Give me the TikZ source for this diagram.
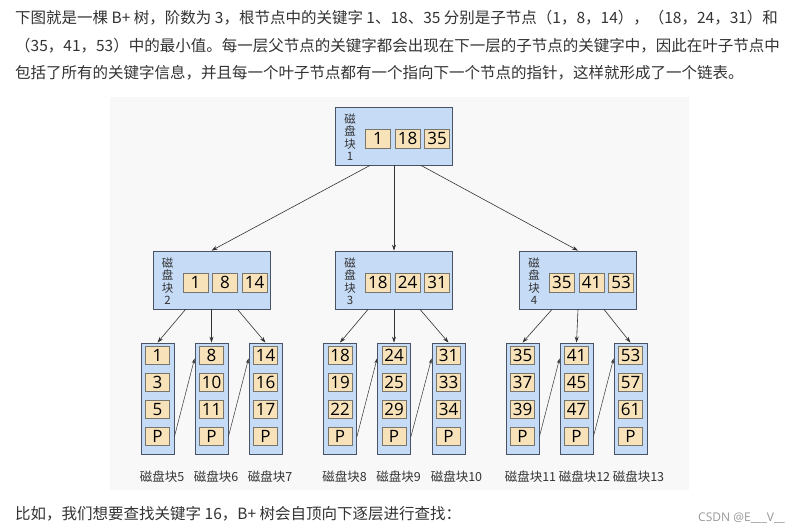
\documentclass[tikz,border=0pt]{standalone}
\usepackage{fontspec}
\setmainfont{Open Sans}
\newfontfamily\cjkfont{Noto Sans CJK SC}
\usetikzlibrary{arrows.meta, positioning, calc}
\definecolor{blkblue}{RGB}{198,219,246}
\definecolor{blkedge}{RGB}{72,84,102}
\definecolor{keyfill}{RGB}{247,226,185}
\definecolor{keyedge}{RGB}{120,118,108}
\definecolor{panel}{RGB}{248,248,248}
\definecolor{txt}{RGB}{51,51,51}

\begin{document}
\begin{tikzpicture}[x=1pt, y=-1pt,
  blk/.style={draw=blkedge, fill=blkblue, line width=0.8pt, minimum width=117pt, minimum height=58pt, inner sep=0pt},
  leafblk/.style={draw=blkedge, fill=blkblue, line width=0.8pt, minimum width=33pt, minimum height=111pt, inner sep=0pt},
  key/.style={draw=keyedge, fill=keyfill, line width=0.6pt, minimum width=25pt, minimum height=19pt, inner sep=0pt, font=\fontsize{17}{17}\selectfont},
  leafkey/.style={key, minimum width=24pt, minimum height=18pt},
  vlbl/.style={align=center, font=\cjkfont\fontsize{11.5}{12.5}\selectfont, text=txt, inner sep=0pt},
  lbl/.style={font=\cjkfont\fontsize{12.5}{12.5}\selectfont, text=txt, inner sep=0pt, anchor=west},
  para/.style={font=\cjkfont\fontsize{15.5}{15.5}\selectfont, text=txt, inner sep=0pt, anchor=west},
  arr/.style={-{Stealth[length=6pt, width=4pt]}, line width=0.6pt, draw=black!80},
  link/.style={-{Stealth[length=5pt, width=3pt]}, line width=0.5pt, draw=black!80}
]
  \useasboundingbox (0,0) rectangle (787,530);
  \fill[white] (0,0) rectangle (787,530);
  \fill[panel] (110,97) rectangle (689,490);

  % text around the figure
  \node[para] (line1) at (15,18) {下图就是一棵 B+ 树，阶数为 3，根节点中的关键字 1、18、35 分别是子节点（1，8，14），（18，24，31）和};
  \node[para] (line2) at (15,46) {（35，41，53）中的最小值。每一层父节点的关键字都会出现在下一层的子节点的关键字中，因此在叶子节点中};
  \node[para] (line3) at (15,73) {包括了所有的关键字信息，并且每一个叶子节点都有一个指向下一个节点的指针，这样就形成了一个链表。};
  \node[para] (ask) at (15,514) {比如，我们想要查找关键字 16，B+ 树会自顶向下逐层进行查找：};
  \node[font=\fontsize{12}{12}\selectfont, text=black!40, anchor=east, inner sep=0pt] (mark) at (785,518) {CSDN @E\_\_\_V\_\_};

  % root and inner blocks
  \foreach \name/\x/\y/\num/\ka/\kb/\kc in {b1/394/136/1/1/18/35, b2/211.5/280/2/1/8/14, b3/394/280/3/18/24/31, b4/578/280/4/35/41/53} {
    \node[blk] (\name) at (\x,\y) {};
    \node[vlbl] (\name-l) at ([xshift=15pt, yshift=-1pt]\name.west) {磁\\盘\\块\\\num};
    \node[key, anchor=west] (\name-k1) at ([xshift=30pt, yshift=-2.5pt]\name.west) {\ka};
    \node[key, right=4pt of \name-k1] (\name-k2) {\kb};
    \node[key, right=4pt of \name-k2] (\name-k3) {\kc};
  }

  % leaf blocks
  \foreach \name/\x/\ka/\kb/\kc/\num in {l5/157.5/1/3/5/5, l6/211.5/8/10/11/6, l7/265.5/14/16/17/7,
      l8/340/18/19/22/8, l9/394/24/25/29/9, l10/448.5/31/33/34/10,
      l11/522.5/35/37/39/11, l12/576.5/41/45/47/12, l13/630.5/53/57/61/13} {
    \node[leafblk] (\name) at (\x,398.5) {};
    \node[leafkey, below=3.5pt of \name.north] (\name-1) {\ka};
    \node[leafkey, below=8.5pt of \name-1] (\name-2) {\kb};
    \node[leafkey, below=8.5pt of \name-2] (\name-3) {\kc};
    \node[leafkey, below=8.5pt of \name-3] (\name-p) {P};
    \node[lbl] (\name-lbl) at ([xshift=-1pt, yshift=-22pt]\name.south west) {磁盘块\num};
  }

  \draw[arr] ([xshift=-24pt]b1.south) -- (b2.north);
  \draw[arr] (b1.south) -- (b3.north);
  \draw[arr] ([xshift=27pt]b1.south) -- (b4.north);

  \foreach \p/\a/\b/\c in {b2/l5/l6/l7, b3/l8/l9/l10, b4/l11/l12/l13} {
    \draw[arr] ([xshift=-26pt]\p.south) -- (\a.north);
    \draw[arr] (\p.south) -- (\b.north);
    \draw[arr] ([xshift=26pt]\p.south) -- (\c.north);
  }

  % leaf chain
  \foreach \a/\b in {l5/l6, l6/l7, l8/l9, l9/l10, l11/l12, l12/l13}
    \draw[link] (\a.east |- \a-p) -- ([yshift=-3pt]\b.west |- \b-1);
\end{tikzpicture}
\end{document}
